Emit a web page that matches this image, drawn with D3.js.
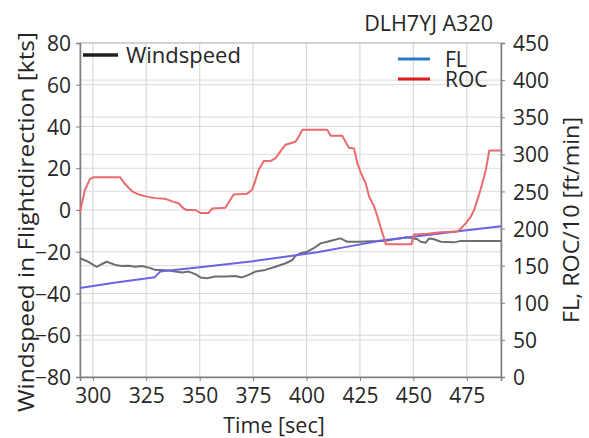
<!DOCTYPE html>
<html>
<head>
<meta charset="utf-8">
<script src="https://cdn.jsdelivr.net/npm/d3@7/dist/d3.min.js"></script>
<style>
  html, body { margin: 0; padding: 0; background: #fff; }
  svg { display: block; }
  text { font-family: "Open Sans", "DejaVu Sans", sans-serif; fill: #262626; }
</style>
</head>
<body>
<svg id="chart" width="589" height="438"></svg>
<script>
// ---------------- data ----------------
const title = "DLH7YJ A320";
const xLabel = "Time [sec]";
const yLeftLabel = "Windspeed in Flightdirection [kts]";
const yRightLabel = "FL, ROC/10 [ft/min]";

const xTicks = [300, 325, 350, 375, 400, 425, 450, 475];
const yLeftTicks = [-80, -60, -40, -20, 0, 20, 40, 60, 80];
const yRightTicks = [0, 50, 100, 150, 200, 250, 300, 350, 400, 450];

const seriesNames = ["Windspeed", "FL", "ROC"];

// ROC/10 (right axis)
const rocTime = [294.0, 296.3, 298.7, 300.3, 312.8, 314.5, 316.7, 319.0, 321.4, 325.3, 329.2, 333.9, 337.8, 340.1, 342.5, 344.1, 348.0, 350.3, 354.2, 355.8, 362.0, 365.9, 372.2, 374.5, 376.1, 377.6, 380.0, 383.1, 385.5, 387.8, 390.2, 392.5, 394.8, 396.4, 398.0, 409.7, 411.3, 416.7, 419.8, 422.2, 423.8, 425.4, 427.7, 429.3, 431.6, 433.2, 435.5, 437.1, 449.1, 450.3, 456.6, 462.8, 470.6, 472.2, 474.5, 476.9, 478.4, 480.0, 481.6, 483.9, 485.5, 491.0];
const rocValues = [222, 252, 267, 269, 269, 262, 255, 249, 246, 243, 241, 240, 236, 234, 227, 225, 225, 221, 221, 227, 228, 246, 247, 252, 265, 279, 291, 291, 295, 304, 313, 315, 317, 324, 333, 333, 325, 325, 309, 308, 288, 275, 261, 243, 230, 216, 194, 179, 179, 192, 193, 195, 196, 200, 207, 216, 225, 239, 254, 279, 305, 305];

// FL (right axis)
const flTime = [294, 310, 329, 331.5, 350, 375, 390, 405, 420, 435, 450, 470, 491];
const flValues = [120, 127, 134.5, 142, 148, 156, 162, 168, 176, 184, 189, 196, 203];

// Windspeed (left axis)
const windTime = [294.0, 297.9, 301.8, 304.0, 306.5, 310.5, 313.6, 316.7, 319.8, 323.0, 326.1, 329.2, 332.3, 335.4, 338.6, 341.7, 344.8, 348.0, 350.3, 353.4, 357.3, 362.0, 366.7, 369.8, 372.9, 376.1, 380.7, 385.5, 390.2, 393.3, 394.8, 397.2, 400.3, 403.4, 406.6, 409.7, 412.8, 415.9, 417.5, 419.1, 425.0, 430.0, 436.3, 441.0, 447.2, 451.9, 453.4, 455.8, 457.3, 459.7, 462.8, 469.0, 472.2, 491.0];
const windValues = [-23.1, -24.8, -27.2, -26.0, -24.8, -26.3, -26.8, -26.7, -27.2, -26.8, -27.6, -28.7, -28.7, -29.0, -29.5, -29.9, -29.5, -30.7, -32.3, -32.7, -31.9, -31.9, -31.6, -32.3, -31.1, -29.5, -28.7, -27.2, -25.5, -24.0, -22.0, -20.7, -20.0, -18.3, -16.0, -15.2, -14.4, -13.6, -14.4, -15.2, -15.2, -15.0, -14.8, -14.0, -13.1, -14.0, -15.2, -15.7, -13.6, -14.0, -15.2, -15.5, -14.8, -14.8];

// ---------------- chart ----------------
const svg = d3.select("#chart");
const m = { left: 80, right: 501, top: 43, bottom: 377 };

const x = d3.scaleLinear().domain([294, 491]).range([m.left, m.right]);
const yL = d3.scaleLinear().domain([-80, 80]).range([m.bottom, m.top]);
const yR = d3.scaleLinear().domain([0, 450]).range([m.bottom, m.top]);

const grid = svg.append("g");
grid.selectAll("line.vx").data(xTicks).enter().append("line")
  .attr("x1", d => x(d)).attr("x2", d => x(d))
  .attr("y1", m.top).attr("y2", m.bottom)
  .attr("stroke", "#d9d9d9").attr("stroke-width", 1.2);
grid.selectAll("line.hl").data(yLeftTicks.slice(1, -1)).enter().append("line")
  .attr("x1", m.left).attr("x2", m.right)
  .attr("y1", d => yL(d)).attr("y2", d => yL(d))
  .attr("stroke", "#d9d9d9").attr("stroke-width", 1.2);
grid.selectAll("line.hr").data(yRightTicks.slice(1, -1)).enter().append("line")
  .attr("x1", m.left).attr("x2", m.right)
  .attr("y1", d => yR(d)).attr("y2", d => yR(d))
  .attr("stroke", "#e2e2e2").attr("stroke-width", 1.2);

// frame
svg.append("rect").attr("x", m.left).attr("y", m.top)
  .attr("width", m.right - m.left).attr("height", m.bottom - m.top)
  .attr("fill", "none").attr("stroke", "#a6a6a6").attr("stroke-width", 1);

// axes
const axL = svg.append("g").attr("transform", `translate(${m.left},0)`)
  .call(d3.axisLeft(yL).tickValues(yLeftTicks).tickSize(4).tickPadding(5));
const axR = svg.append("g").attr("transform", `translate(${m.right},0)`)
  .call(d3.axisRight(yR).tickValues(yRightTicks).tickSize(4).tickPadding(8));
const axB = svg.append("g").attr("transform", `translate(0,${m.bottom})`)
  .call(d3.axisBottom(x).tickValues(xTicks).tickSize(4).tickPadding(6));
[axL, axR, axB].forEach(a => {
  a.select(".domain").attr("stroke", "#7f7f7f").attr("stroke-width", 1.5);
  a.selectAll(".tick line").attr("stroke", "#7f7f7f");
  a.selectAll(".tick text").style("font-family", '"Open Sans", sans-serif')
    .style("font-size", "21px").attr("fill", "#262626");
});
axL.selectAll(".tick text").attr("dy", "0.36em");
axR.selectAll(".tick text").attr("dy", "0.36em");
axB.selectAll(".tick text").attr("dy", "0.78em");

// lines
const lineL = d3.line().x(d => x(d[0])).y(d => yL(d[1]));
const lineR = d3.line().x(d => x(d[0])).y(d => yR(d[1]));

svg.append("path").datum(d3.zip(windTime, windValues))
  .attr("d", lineL).attr("fill", "none")
  .attr("stroke", "#6e6e6e").attr("stroke-width", 2).attr("stroke-linejoin", "round");
svg.append("path").datum(d3.zip(flTime, flValues))
  .attr("d", lineR).attr("fill", "none")
  .attr("stroke", "#6b62e6").attr("stroke-width", 2).attr("stroke-linejoin", "round");
svg.append("path").datum(d3.zip(rocTime, rocValues))
  .attr("d", lineR).attr("fill", "none")
  .attr("stroke", "#ec6a6c").attr("stroke-width", 2).attr("stroke-linejoin", "round");

// legends
svg.append("line").attr("x1", 83).attr("x2", 118).attr("y1", 55).attr("y2", 55)
  .attr("stroke", "#1f1f1f").attr("stroke-width", 3.5);
svg.append("text").attr("x", 126).attr("y", 62.5).style("font-size", "22px").text(seriesNames[0]);

svg.append("line").attr("x1", 398).attr("x2", 430).attr("y1", 59).attr("y2", 59)
  .attr("stroke", "#2a79c4").attr("stroke-width", 3);
svg.append("line").attr("x1", 398).attr("x2", 430).attr("y1", 79).attr("y2", 79)
  .attr("stroke", "#e3191c").attr("stroke-width", 3);
const leg2 = svg.append("text").style("font-size", "21px");
leg2.append("tspan").attr("x", 445).attr("y", 67).text(seriesNames[1]);
leg2.append("tspan").attr("x", 445).attr("y", 87).text(seriesNames[2]);

// titles
svg.append("text").attr("x", 493).attr("y", 30.5).attr("text-anchor", "end")
  .style("font-size", "21.5px").text(title);
svg.append("text").attr("x", 274).attr("y", 432.5).attr("text-anchor", "middle")
  .style("font-size", "21.5px").text(xLabel);
svg.append("text").attr("transform", "translate(33.5,222) rotate(-90)")
  .attr("text-anchor", "middle").style("font-size", "22px")
  .attr("textLength", 380).attr("lengthAdjust", "spacingAndGlyphs").text(yLeftLabel);
svg.append("text").attr("transform", "translate(579,220) rotate(-90)")
  .attr("text-anchor", "middle").style("font-size", "22px")
  .attr("textLength", 206).attr("lengthAdjust", "spacingAndGlyphs").text(yRightLabel);
</script>
</body>
</html>
